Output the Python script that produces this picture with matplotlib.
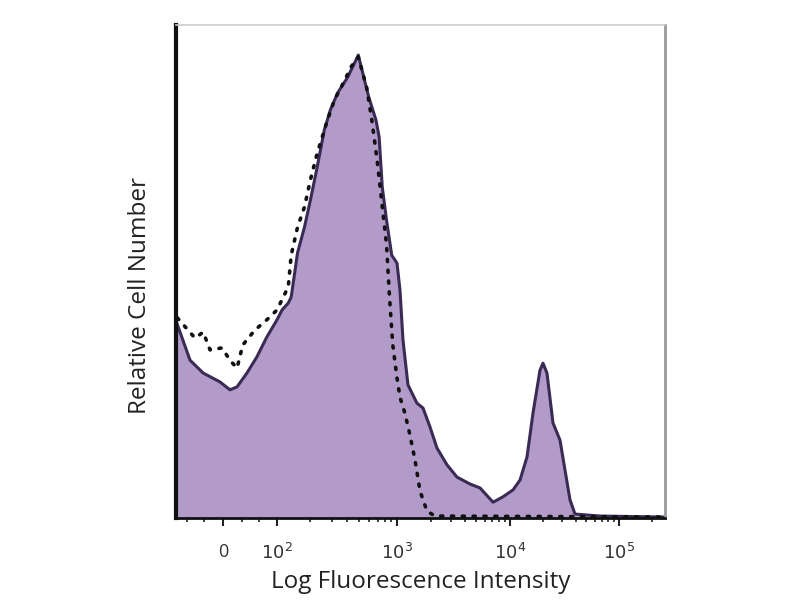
import numpy as np
import matplotlib
matplotlib.use("Agg")
import matplotlib.pyplot as plt

plt.rcParams['font.family'] = ['Open Sans', 'DejaVu Sans']

# ---- data (fluorescence intensity, relative count) ----
stained_x = [-83, -54, -31, -4.6, 10.7, 21.7, 38, 56, 76, 100, 112, 128, 136, 155, 178,
             200, 228, 261, 293, 335, 406, 492, 596, 681, 721, 764, 826, 908, 1000,
             1063, 1130, 1251, 1502, 1700, 1958, 2259, 2768, 3394, 4426, 5431, 7079,
             8670, 10660, 12360, 14330, 16260, 18850, 20080, 21830, 24790, 28750,
             31970, 35500, 39470, 66970, 262144]
stained_y = [40.0, 32.0, 29.4, 27.6, 26.0, 26.6, 29.4, 32.7, 36.7, 40.2, 42.2, 43.6, 44.8,
             53.8, 59.0, 64.5, 71.2, 78.7, 82.8, 86.2, 89.5, 93.9, 85.4, 80.7, 77.3,
             67.1, 60.4, 53.3, 51.7, 46.2, 36.1, 27.0, 23.3, 22.3, 18.5, 14.2, 10.8,
             8.3, 6.9, 6.1, 3.2, 4.3, 5.7, 7.7, 12.4, 21.3, 30.0, 31.4, 29.4, 19.3,
             15.8, 9.7, 3.7, 0.8, 0.4, 0.2]

control_x = [-80, -45, -31, -20, -1.5, 10.7, 21.7, 31, 52, 76, 100, 128, 136, 155, 178,
             200, 228, 277, 316, 383, 430, 492, 573, 631, 695, 764, 826, 875, 926,
             1000, 1063, 1177, 1303, 1443, 1598, 1843, 2166, 262144]
control_y = [40.6, 36.5, 37.7, 34.1, 34.5, 32.0, 30.4, 35.1, 38.1, 40.2, 42.2, 46.9, 53.3,
             59.0, 63.1, 68.6, 74.0, 80.7, 84.8, 88.8, 91.5, 93.5, 87.4, 80.7, 72.6,
             63.1, 55.4, 44.2, 35.1, 28.4, 24.5, 21.2, 16.8, 11.8, 5.5, 1.4, 0.4, 0.2]

tick_values = [0, 100, 1000, 10000, 100000]
tick_labels = ['0', r'$10^2$', r'$10^3$', r'$10^4$', r'$10^5$']

# ---- biexponential-like axis scale ----
W = 75.0
anchor_x = np.array([-83, 0, 100, 1000, 1e4, 1e5, 262144])
anchor_pos = np.array([176, 223, 277, 397, 510, 619, 665], dtype=float)
anchor_u = np.arcsinh(anchor_x / W)


def _interp_ext(v, xp, fp):
    v = np.asarray(v, dtype=float)
    out = np.interp(v, xp, fp)
    lo = v < xp[0]
    hi = v > xp[-1]
    s0 = (fp[1] - fp[0]) / (xp[1] - xp[0])
    s1 = (fp[-1] - fp[-2]) / (xp[-1] - xp[-2])
    out = np.where(lo, fp[0] + (v - xp[0]) * s0, out)
    out = np.where(hi, fp[-1] + (v - xp[-1]) * s1, out)
    return out


def fwd(x):
    return _interp_ext(np.arcsinh(np.asarray(x, dtype=float) / W), anchor_u, anchor_pos)


def inv(p):
    return W * np.sinh(_interp_ext(p, anchor_pos, anchor_u))


fig = plt.figure(figsize=(8, 6), dpi=100)
ax = fig.add_axes([176 / 800, 1 - 518 / 600, (665 - 176) / 800, (518 - 25) / 600])
ax.set_xscale('function', functions=(fwd, inv))

fill_col = '#b39bc9'
line_col = '#3a2b55'

ax.fill_between(stained_x, stained_y, 0, color=fill_col, lw=0, zorder=1)
ax.plot(stained_x, stained_y, color=line_col, lw=2.2, zorder=2)
ax.plot(control_x, control_y, color='#111111', lw=2.6, linestyle=(0, (0.6, 2.4)),
        dash_capstyle='round', zorder=3)

ax.set_xlim(-83, 262144)
ax.set_ylim(0, 100)

ax.set_xticks(tick_values)
ax.set_xticklabels(tick_labels, fontsize=13, color='#333333')
minor = [-60, -30, 30, 60]
for d in [100, 1000, 10000]:
    minor += [d * k for k in range(2, 10)]
minor += [200000]
ax.set_xticks(minor, minor=True)
ax.tick_params(axis='x', which='major', length=6, width=1.5, color='#222222', pad=12)
ax.tick_params(axis='x', which='minor', length=3, width=1.2, color='#222222')
ax.set_yticks([])

ax.spines['left'].set_linewidth(3)
ax.spines['left'].set_color('#111111')
ax.spines['bottom'].set_linewidth(2)
ax.spines['bottom'].set_color('#111111')
ax.spines['top'].set_color('#cccccc')
ax.spines['top'].set_linewidth(1.2)
ax.spines['right'].set_color('#999999')
ax.spines['right'].set_linewidth(2)

ax.set_xlabel('Log Fluorescence Intensity', fontsize=17.5, color='#222222', labelpad=5)
ax.set_ylabel('Relative Cell Number', fontsize=17.5, color='#222222')
ax.yaxis.set_label_coords(-0.05, 0.452)

fig.savefig('out.png', dpi=100)
